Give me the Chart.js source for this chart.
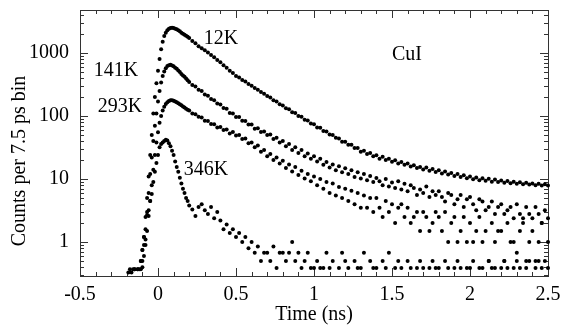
<!DOCTYPE html>
<html lang="en">
<head>
<meta charset="UTF-8">
<title>CuI time-resolved luminescence</title>
<script src="https://cdn.jsdelivr.net/npm/chart.js"></script>
<style>
  html, body { margin: 0; padding: 0; background: #fff; }
  canvas { display: block; }
</style>
</head>
<body>
<canvas id="grafico" width="567" height="327"></canvas>
<script>
// time bins (ns)
const tempos = [
  -0.2,-0.19,-0.18,-0.17,-0.16,-0.15,-0.14,-0.13,-0.12,-0.11,
  -0.1,-0.09,-0.08,-0.07,-0.06,-0.05,-0.04,-0.03,-0.02,-0.01,
  0,0.01,0.02,0.03,0.04,0.05,0.06,0.07,0.08,0.09,
  0.1,0.11,0.12,0.13,0.14,0.15,0.16,0.17,0.18,0.19,
  0.2,0.22,0.24,0.26,0.28,0.3,0.32,0.34,0.36,0.38,
  0.4,0.42,0.44,0.46,0.48,0.5,0.52,0.54,0.56,0.58,
  0.6,0.62,0.64,0.66,0.68,0.7,0.72,0.74,0.76,0.78,
  0.8,0.82,0.84,0.86,0.88,0.9,0.92,0.94,0.96,0.98,
  1,1.02,1.04,1.06,1.08,1.1,1.12,1.14,1.16,1.18,
  1.2,1.22,1.24,1.26,1.28,1.3,1.32,1.34,1.36,1.38,
  1.4,1.42,1.44,1.46,1.48,1.5,1.52,1.54,1.56,1.58,
  1.6,1.62,1.64,1.66,1.68,1.7,1.72,1.74,1.76,1.78,
  1.8,1.82,1.84,1.86,1.88,1.9,1.92,1.94,1.96,1.98,
  2,2.02,2.04,2.06,2.08,2.1,2.12,2.14,2.16,2.18,
  2.2,2.22,2.24,2.26,2.28,2.3,2.32,2.34,2.36,2.38,
  2.4,2.42,2.44,2.46,2.48,2.5
];

// counts per 7.5 ps bin
const serie12K = [
  null,null,0.37,null,0.37,null,null,0.37,null,0.5,
  0.75,1.2,2.5,5,11,24,50,110,200,330,
  520,800,1150,1500,1850,2100,2300,2420,2480,2500,
  2480,2430,2370,2300,2200,2100,2020,1950,1870,1800,
  1720,1550,1420,1280,1190,1100,1020,925,855,775,
  715,640,580,522,482,432,408,372,352,322,
  302,278,262,240,226,207,197,178,170,153,
  147,133,128,115,112,100,97,87,85,76,
  74,66,65,58,57,51,50,45,44,39,
  39,35,35,31,31,27,28,25,26,23,
  23.8,21,22.5,20,21,18.8,19.8,17.6,18.6,16.8,
  17.6,15.8,16.6,15,15.6,14.2,15.2,13.6,14.4,12.9,
  13.8,12.3,13.2,11.8,12.5,11.2,12,10.8,11.5,10.3,
  11,9.9,10.6,9.6,10.3,9.4,10.1,9.1,9.8,9,
  9.5,8.7,9.3,8.6,9.1,8.4,8.9,8.3,8.7,8.2,
  8.5,8,8.4,7.9,8.3,7.9
];

const serie141K = [
  null,0.33,null,null,null,0.37,null,null,null,0.37,
  0.5,0.9,1.6,3,6,12,22,40,70,110,
  170,250,340,430,510,570,620,640,650,635,
  615,585,560,525,500,465,440,420,395,370,
  345,310,295,262,250,220,210,186,178,158,
  152,134,130,112,110,96,96,84,83,73,
  73,63,64,56,57,50,51,43,45,38,
  40,33,36,29,32,26,29,23,25.5,21,
  23,19,21,16.8,18.6,15.2,17,13.8,16,12.8,
  14.8,12,13.8,10.8,12.8,10.2,12,9.6,11.2,9,
  10.4,9.2,8,10,7.6,8.8,7.2,9.2,6.8,8.4,
  6.4,8,7.2,5.6,6.8,6,7.6,5.2,6.4,5.6,
  6.4,5.2,4.4,6,5.6,4,4.8,5.6,3.6,4.8,
  5.2,4,3.2,4.8,4.4,3.2,3.6,4.4,2.8,3.6,
  4,2.8,3.2,3.6,2.4,4,2.8,2.4,3.6,2.8,
  2.4,3.6,2.8,2,3.2,2.4
];

const serie293K = [
  null,null,null,0.33,null,null,null,null,0.37,null,
  0.4,0.6,0.9,1.5,2.6,4.5,8,14,24,38,
  55,78,100,122,140,155,166,173,177,178,
  175,170,166,160,153,148,141,137,130,126,
  122,110,107,97,95,84,83,75,74,66,
  67,60,61,53,56,49,50,43,44,37,
  38,32,34,27,29,23,25,20,22,17.6,
  19.5,15,17,13.2,15.5,11.6,13.6,10.2,12,9.2,
  11,8,10,7,9,6,8.5,5.5,7.5,5,
  7,4.5,6.5,4,6,3.5,5.5,3.5,5,3,
  5,3.5,2.5,4.5,3,4,2,3.5,4,2.5,
  3.5,2,2.5,3,1.5,3,2.5,1.5,2,3,
  2.5,1.5,3,1,2,2.5,1,1.5,2.5,1,
  2,1,1.5,2.5,1,1.5,0.5,2,1,1.5,
  1.5,0.5,2,1,1,0.5,1.5,2,0.5,1,
  1.5,0.5,1,2,0.5,1
];

const serie346K = [
  null,null,null,null,null,0.37,null,0.37,null,0.5,
  0.75,1.2,1.1,2.7,3.2,4.5,5.8,9,13,18,
  24,32,36,38,40,42,41,37,33,28,
  24,19,15.5,13,10.5,8.5,7,6,5,4.5,
  3.8,3.3,2.6,3.6,4,3.2,2.8,3.6,2.4,3,
  2.2,1.6,1.9,1.4,1.6,1.2,1.4,1,1.2,0.8,
  1,0.68,0.85,0.5,0.68,0.68,0.5,0.85,0.39,0.68,
  0.68,0.5,0.68,1,0.5,0.68,0.39,0.5,0.68,0.39,
  0.39,0.5,0.39,0.39,0.68,0.39,0.5,null,0.39,0.68,
  0.5,0.39,null,0.5,0.39,0.39,0.68,null,0.5,0.39,
  0.39,null,0.5,0.39,0.68,null,0.39,0.5,0.39,null,
  0.5,0.39,null,0.39,0.5,0.39,null,0.39,0.5,0.39,
  0.39,null,0.5,0.39,null,0.39,0.5,0.39,null,0.39,
  0.39,0.5,null,0.39,0.39,null,0.5,0.39,0.39,null,
  0.39,0.5,0.39,null,0.39,0.68,0.39,null,0.39,0.5,
  null,0.39,0.5,0.39,null,0.39
];

const xTickLabels = [-0.5, 0, 0.5, 1, 1.5, 2, 2.5];
const yTickLabels = [1, 10, 100, 1000];

// curve labels, placed in data units
const rotulos = ['12K', '141K', '293K', '346K', 'CuI'];
const rotuloT = [0.404, -0.269, -0.244, 0.308, 1.596];
const rotuloV = [1670, 518, 139, 13.9, 930];

const fonte = '"Liberation Serif", "Times New Roman", serif';
Chart.defaults.font.family = fonte;
Chart.defaults.color = '#000';

function pontos(valores) {
  const out = [];
  tempos.forEach((t, i) => {
    if (valores[i] != null) out.push({ x: t, y: valores[i] });
  });
  return out;
}

function serieDataset(valores) {
  return {
    data: pontos(valores),
    backgroundColor: '#000',
    borderWidth: 0,
    pointRadius: 2,
    pointHoverRadius: 2,
    showLine: false,
    clip: false
  };
}

const moldura = {
  id: 'moldura',
  beforeDatasetsDraw(chart) {
    const { ctx, chartArea: a, scales: { x, y } } = chart;
    ctx.save();
    ctx.strokeStyle = '#333';
    ctx.lineWidth = 1;
    ctx.strokeRect(a.left + 0.5, a.top + 0.5, a.right - a.left, a.bottom - a.top);
    ctx.beginPath();
    x.ticks.forEach(t => {
      const major = xTickLabels.some(l => Math.abs(l - t.value) < 1e-6);
      const len = major ? 8 : 4;
      const px = Math.round(x.getPixelForValue(t.value)) + 0.5;
      ctx.moveTo(px, a.bottom); ctx.lineTo(px, a.bottom - len);
      ctx.moveTo(px, a.top); ctx.lineTo(px, a.top + len);
    });
    y.ticks.forEach(t => {
      const major = yTickLabels.includes(t.value);
      const len = major ? 8 : 4;
      const py = Math.round(y.getPixelForValue(t.value)) + 0.5;
      ctx.moveTo(a.left, py); ctx.lineTo(a.left + len, py);
      ctx.moveTo(a.right, py); ctx.lineTo(a.right - len, py);
    });
    ctx.stroke();
    ctx.restore();
  },
  afterDatasetsDraw(chart) {
    const { ctx, scales: { x, y } } = chart;
    ctx.save();
    ctx.fillStyle = '#000';
    ctx.font = '20px ' + fonte;
    ctx.textAlign = 'center';
    ctx.textBaseline = 'middle';
    rotulos.forEach((txt, i) => {
      ctx.fillText(txt, x.getPixelForValue(rotuloT[i]), y.getPixelForValue(rotuloV[i]));
    });
    // y axis title
    ctx.translate(20, 161);
    ctx.rotate(-Math.PI / 2);
    ctx.fillText('Counts per 7.5 ps bin', 0, 0);
    ctx.restore();
  }
};

new Chart(document.getElementById('grafico'), {
  type: 'scatter',
  data: {
    datasets: [
      serieDataset(serie12K),
      serieDataset(serie141K),
      serieDataset(serie293K),
      serieDataset(serie346K)
    ]
  },
  options: {
    responsive: false,
    animation: false,
    layout: { padding: { top: 10, right: 19, left: 0, bottom: 0 } },
    plugins: { legend: { display: false }, tooltip: { enabled: false } },
    scales: {
      x: {
        type: 'linear',
        min: -0.5,
        max: 2.5,
        afterFit(scale) {
          scale.height = 51;
          scale.paddingLeft = 0;
          scale.paddingRight = 0;
        },
        afterBuildTicks(scale) {
          const ticks = [];
          for (let k = -5; k <= 25; k++) ticks.push({ value: k / 10 });
          scale.ticks = ticks;
        },
        grid: { display: false, drawTicks: false },
        border: { display: false },
        ticks: {
          autoSkip: false,
          maxRotation: 0,
          minRotation: 0,
          padding: 7,
          font: { size: 20 },
          color: '#000',
          callback: v => xTickLabels.some(l => Math.abs(l - v) < 1e-6) ? String(v) : ''
        },
        title: {
          display: true,
          text: 'Time (ns)',
          font: { size: 20 },
          color: '#000',
          padding: { top: 0, bottom: 0 }
        }
      },
      y: {
        type: 'logarithmic',
        min: 0.29,
        max: 4800,
        afterFit(scale) {
          scale.width = 80;
          scale.paddingTop = 0;
          scale.paddingBottom = 0;
        },
        afterBuildTicks(scale) {
          const ticks = [];
          [0.1, 1, 10, 100, 1000].forEach(d => {
            for (let m = 1; m <= 9; m++) {
              const v = m * d;
              if (v >= 0.29 && v <= 4800) ticks.push({ value: v });
            }
          });
          scale.ticks = ticks;
        },
        grid: { display: false, drawTicks: false },
        border: { display: false },
        ticks: {
          autoSkip: false,
          padding: 11,
          font: { size: 20 },
          color: '#000',
          callback: v => yTickLabels.includes(v) ? String(v) : ''
        }
      }
    }
  },
  plugins: [moldura]
});
</script>
</body>
</html>
